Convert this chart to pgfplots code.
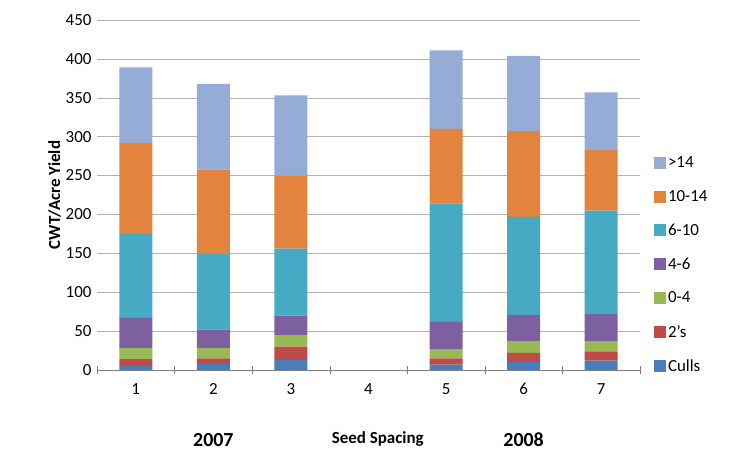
\documentclass[border=0pt]{standalone}
\usepackage{pgfplots}
\pgfplotsset{compat=1.18}
\usepackage{fontspec}
\setmainfont{Carlito}
\definecolor{cA}{HTML}{4A7EBB}
\definecolor{cB}{HTML}{BE4B48}
\definecolor{cC}{HTML}{98B954}
\definecolor{cD}{HTML}{7D60A0}
\definecolor{cE}{HTML}{46AAC5}
\definecolor{cF}{HTML}{E2843E}
\definecolor{cG}{HTML}{95ADD6}
\begin{document}
\begin{tikzpicture}[font=\fontsize{17}{20}\selectfont]
\begin{axis}[
  scale only axis, width=543bp, height=350bp, clip=false,
  ybar stacked, bar width=33bp,
  xmin=0.5, xmax=7.5, ymin=0, ymax=450,
  xtick={1,...,7}, ytick={0,50,...,450},
  major x tick style={draw=none},
  minor xtick={0.5,1.5,...,7.5},
  minor x tick style={gray, yshift=-4bp},
  minor tick length=8bp,
  ymajorgrids, grid style={gray!60},
  axis line style={gray}, y axis line style={draw=none},
  axis x line*=bottom,
  axis y line*=left,
  ytick style={draw=none},
  yticklabel style={xshift=-2bp},
  xticklabel style={yshift=-10bp},
  /pgf/number format/assume math mode=true,
  ylabel={\bfseries CWT/Acre Yield},
  ylabel style={yshift=-2bp},
  legend style={draw=none, at={(1.02,-0.02)}, anchor=south west, row sep=17bp, font=\fontsize{17}{20}\selectfont},
  legend cell align=left, reverse legend,
  legend image code/.code={\fill[#1] (0bp,-6bp) rectangle (12bp,6bp);},
]
\addplot[fill=cA, draw=none] coordinates {(1,5) (2,8) (3,13) (4,0) (5,7) (6,10) (7,12)};
\addplot[fill=cB, draw=none] coordinates {(1,9) (2,7) (3,17) (4,0) (5,8) (6,12) (7,12)};
\addplot[fill=cC, draw=none] coordinates {(1,14) (2,13) (3,15) (4,0) (5,12) (6,15) (7,13)};
\addplot[fill=cD, draw=none] coordinates {(1,39) (2,24) (3,25) (4,0) (5,35) (6,34) (7,35)};
\addplot[fill=cE, draw=none] coordinates {(1,109) (2,98) (3,86) (4,0) (5,152) (6,126) (7,133)};
\addplot[fill=cF, draw=none] coordinates {(1,116) (2,108) (3,94) (4,0) (5,96) (6,110) (7,78)};
\addplot[fill=cG, draw=none] coordinates {(1,97) (2,110) (3,103) (4,0) (5,101) (6,97) (7,74)};
\legend{Culls,2's,0-4,4-6,6-10,10-14,>14}
\node[font=\fontsize{20}{23}\selectfont\bfseries] at (axis cs:2,0) [yshift=-70bp] {2007};
\node[font=\fontsize{20}{23}\selectfont\bfseries] at (axis cs:6,0) [yshift=-70bp] {2008};
\node[font=\fontsize{17}{20}\selectfont\bfseries] at (axis cs:4.12,0) [yshift=-69bp] {Seed Spacing};
\end{axis}
\useasboundingbox (-97bp,-81bp) rectangle (659bp,370bp);
\end{tikzpicture}
\end{document}
